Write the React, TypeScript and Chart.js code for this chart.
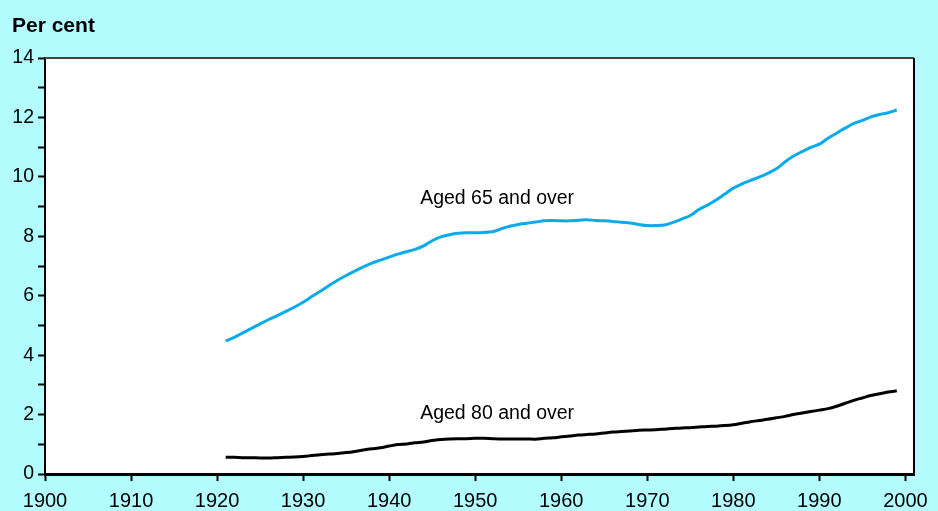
import React, { useEffect, useRef } from "react";
import { Chart, registerables } from "chart.js";

Chart.register(...registerables);

const years: number[] = [];
for (let y = 1921; y <= 1999; y++) years.push(y);

const aged65: number[] = [
  4.48, 4.6, 4.75, 4.9, 5.05, 5.2, 5.33, 5.47, 5.62, 5.78,
  5.97, 6.15, 6.34, 6.52, 6.68, 6.83, 6.97, 7.1, 7.2, 7.3,
  7.4, 7.48, 7.56, 7.68, 7.85, 7.98, 8.05, 8.1, 8.12, 8.12,
  8.13, 8.15, 8.25, 8.34, 8.4, 8.44, 8.48, 8.52, 8.53, 8.52,
  8.52, 8.54, 8.56, 8.53, 8.52, 8.5, 8.47, 8.45, 8.4, 8.36,
  8.36, 8.38, 8.47, 8.58, 8.7, 8.9, 9.05, 9.22, 9.42, 9.62,
  9.76, 9.88, 9.99, 10.12, 10.27, 10.5, 10.7, 10.85, 10.99, 11.1,
  11.3, 11.47, 11.64, 11.8, 11.9, 12.02, 12.1, 12.16, 12.25,
];

const aged80: number[] = [
  0.56, 0.56, 0.55, 0.55, 0.54, 0.54, 0.55, 0.56, 0.57, 0.59,
  0.62, 0.65, 0.67, 0.69, 0.72, 0.76, 0.81, 0.85, 0.88, 0.94,
  0.99, 1.01, 1.05, 1.08, 1.13, 1.16, 1.18, 1.19, 1.19, 1.2,
  1.2, 1.19, 1.18, 1.18, 1.18, 1.18, 1.17, 1.2, 1.22, 1.25,
  1.28, 1.31, 1.33, 1.35, 1.38, 1.41, 1.43, 1.45, 1.47, 1.48,
  1.49, 1.51, 1.53, 1.55, 1.56, 1.58, 1.6, 1.61, 1.63, 1.66,
  1.71, 1.76, 1.8, 1.84, 1.89, 1.94, 2.0, 2.05, 2.1, 2.15,
  2.2, 2.28, 2.38, 2.48, 2.56, 2.64, 2.7, 2.76, 2.8,
];

const seriesLabels = ["Aged 65 and over", "Aged 80 and over"];
const labelAnchors = [
  { x: 1943.6, y: 9.1 },
  { x: 1943.6, y: 1.84 },
];
const yAxisTitle = "Per cent";

const BG = "#b3fcff";
const FONT = "'Liberation Sans', Arial, sans-serif";

export default function App() {
  const ref = useRef<HTMLCanvasElement>(null);

  useEffect(() => {
    document.body.style.margin = "0";
    const canvas = ref.current!;
    const decor = {
      id: "decor",
      beforeDraw(chart: any) {
        const { ctx, chartArea: a } = chart;
        ctx.save();
        ctx.fillStyle = BG;
        ctx.fillRect(0, 0, chart.width, chart.height);
        ctx.fillStyle = "#ffffff";
        ctx.fillRect(a.left, a.top, a.right - a.left, a.bottom - a.top);
        ctx.fillStyle = "#000";
        ctx.font = `bold 21px ${FONT}`;
        ctx.textBaseline = "alphabetic";
        ctx.textAlign = "left";
        ctx.fillText(yAxisTitle, 12, 32);
        ctx.restore();
      },
      afterDatasetsDraw(chart: any) {
        const { ctx, chartArea: a, scales } = chart;
        ctx.save();
        ctx.fillStyle = "#000";
        ctx.font = `19.5px ${FONT}`;
        ctx.textBaseline = "alphabetic";
        ctx.textAlign = "left";
        seriesLabels.forEach((t, i) => {
          ctx.fillText(
            t,
            scales.x.getPixelForValue(labelAnchors[i].x),
            scales.y.getPixelForValue(labelAnchors[i].y)
          );
        });
        ctx.lineWidth = 2;
        ctx.strokeStyle = "#444";
        ctx.beginPath();
        ctx.moveTo(a.left, a.top);
        ctx.lineTo(a.right, a.top);
        ctx.stroke();
        ctx.strokeStyle = "#000";
        ctx.beginPath();
        ctx.moveTo(a.right, a.top);
        ctx.lineTo(a.right, a.bottom);
        ctx.stroke();
        ctx.restore();
      },
    };

    const chart = new Chart(canvas, {
      type: "line",
      data: {
        datasets: [
          {
            label: seriesLabels[0],
            data: years.map((x, i) => ({ x, y: aged65[i] })),
            borderColor: "#0aaaeb",
            borderWidth: 3,
            pointRadius: 0,
            tension: 0.3,
            fill: false,
          },
          {
            label: seriesLabels[1],
            data: years.map((x, i) => ({ x, y: aged80[i] })),
            borderColor: "#000000",
            borderWidth: 3,
            pointRadius: 0,
            tension: 0.3,
            fill: false,
          },
        ],
      },
      options: {
        animation: false,
        responsive: false,
        maintainAspectRatio: false,
        layout: { padding: { top: 58, right: 24, left: 0, bottom: 0 } },
        plugins: {
          legend: { display: false },
          tooltip: { enabled: false },
          title: { display: false },
        },
        scales: {
          x: {
            type: "linear",
            min: 1900,
            max: 2001,
            afterFit: (s: any) => {
              s.height = 37;
            },
            ticks: {
              stepSize: 10,
              includeBounds: false,
              autoSkip: false,
              maxRotation: 0,
              color: "#000",
              padding: 8,
              font: { family: FONT, size: 20 },
              callback: (v: any) => String(v),
            },
            grid: {
              drawOnChartArea: false,
              drawTicks: true,
              tickLength: 7,
              tickWidth: 2,
              tickColor: "#000",
            },
            border: { display: true, color: "#000", width: 3 },
          },
          y: {
            min: 0,
            max: 14,
            afterFit: (s: any) => {
              s.width = 45;
            },
            ticks: {
              stepSize: 1,
              autoSkip: false,
              color: "#000",
              padding: 4,
              font: { family: FONT, size: 19.5 },
              callback: (v: any) => (Number(v) % 2 === 0 ? String(v) : ""),
            },
            grid: {
              drawOnChartArea: false,
              drawTicks: true,
              tickLength: 7,
              tickWidth: 2,
              tickColor: "#000",
            },
            border: { display: true, color: "#000", width: 2 },
          },
        },
      },
      plugins: [decor],
    });
    return () => chart.destroy();
  }, []);

  return (
    <div style={{ width: 938, height: 511, background: BG }}>
      <canvas ref={ref} width={938} height={511} style={{ display: "block" }} />
    </div>
  );
}
